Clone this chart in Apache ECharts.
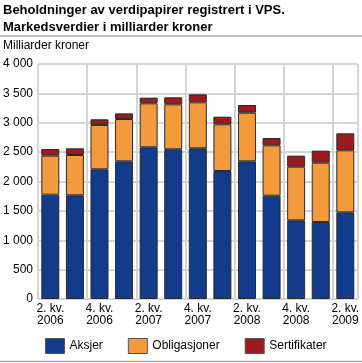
<!DOCTYPE html>
<html><head><meta charset="utf-8">
<script src="https://cdn.jsdelivr.net/npm/echarts@6/dist/echarts.min.js"></script>
<style>html,body{margin:0;padding:0;background:#fff}#c{width:362px;height:363px}</style>
</head><body><div id="c"></div>
<script>
const categories = ["2. kv. 2006","3. kv. 2006","4. kv. 2006","1. kv. 2007","2. kv. 2007","3. kv. 2007","4. kv. 2007","1. kv. 2008","2. kv. 2008","3. kv. 2008","4. kv. 2008","1. kv. 2009","2. kv. 2009"];
const aksjer = [1776,1765,2207,2343,2582,2548,2565,2179,2343,1759,1339,1311,1475];
const obligasjoner = [664,686,755,721,749,766,783,794,828,857,913,1009,1056];
const sertifikater = [113,114,97,96,96,119,136,130,131,124,188,205,289];
const yTicks = [0,500,1000,1500,2000,2500,3000,3500,4000];

const chart = echarts.init(document.getElementById('c'));
const font = 'Liberation Sans, Arial, sans-serif';
const mk = (name, data, color) => ({
  name, type: 'bar', stack: 'total', data, barWidth: 18,
  itemStyle: {color, borderColor: '#2a2a2a', borderWidth: 1},
  emphasis: {disabled: true}
});
chart.setOption({
  animation: false,
  textStyle: {fontFamily: font},
  title: {
    text: 'Beholdninger av verdipapirer registrert i VPS.\nMarkedsverdier i milliarder kroner',
    left: 3, top: 2, padding: 0,
    textStyle: {fontSize: 13, fontWeight: 'bold', color: '#000', lineHeight: 17, fontFamily: font}
  },
  graphic: [
    {type: 'line', shape: {x1: 0, y1: 36, x2: 362, y2: 36}, style: {stroke: '#aaa', lineWidth: 1.5}},
    {type: 'line', shape: {x1: 0, y1: 361.5, x2: 362, y2: 361.5}, style: {stroke: '#aaa', lineWidth: 1.5}},
    {type: 'text', left: 3, top: 40, style: {text: 'Milliarder kroner', fontSize: 12, fill: '#000', fontFamily: font}}
  ],
  grid: {left: 36, right: 1, top: 64, bottom: 64},
  legend: {
    bottom: 4, left: 40, itemWidth: 19, itemHeight: 15, itemGap: 25, icon: 'rect',
    textStyle: {fontSize: 12, color: '#000', fontFamily: font},
    itemStyle: {borderColor: '#555', borderWidth: 1},
    data: ['Aksjer','Obligasjoner','Sertifikater']
  },
  xAxis: {
    type: 'category', data: categories,
    axisLine: {show: true, lineStyle: {color: '#d4d4d4', width: 2}},
    axisTick: {show: false},
    splitLine: {show: true, lineStyle: {color: '#d4d4d4', width: 2}},
    axisLabel: {
      interval: 1, color: '#000', fontSize: 12, lineHeight: 12, margin: 4,
      formatter: v => v.replace(/ (\d{4})$/, '\n$1')
    }
  },
  yAxis: {
    type: 'value', min: 0, max: 4000, interval: 500,
    axisLine: {show: false}, axisTick: {show: false},
    splitLine: {lineStyle: {color: '#d4d4d4', width: 2}},
    axisLabel: {color: '#000', fontSize: 12, margin: 5,
      formatter: v => yTicks.includes(v) ? String(v).replace(/\B(?=(\d{3})+(?!\d))/g, ' ') : ''}
  },
  series: [
    mk('Aksjer', aksjer, '#123b8c'),
    mk('Obligasjoner', obligasjoner, '#f39a3c'),
    mk('Sertifikater', sertifikater, '#9b1a1f')
  ]
});
</script></body></html>
